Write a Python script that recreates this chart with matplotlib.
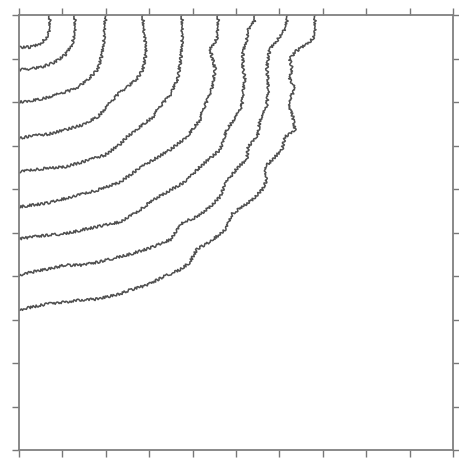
import numpy as np
import matplotlib
matplotlib.use("Agg")
import matplotlib.pyplot as plt

# Contour levels, innermost first.
# Each curve: x values and y values (axis units 0..10, origin bottom left).
curve1_x = [0.71, 0.71, 0.71, 0.65, 0.48, 0.25, 0.00]
curve1_y = [10.0, 9.84, 9.68, 9.49, 9.33, 9.26, 9.26]

curve2_x = [1.29, 1.29, 1.29, 1.22, 1.06, 0.83, 0.53, 0.21, 0.00]
curve2_y = [10.0, 9.84, 9.61, 9.31, 9.08, 8.92, 8.80, 8.76, 8.74]

curve3_x = [2.03, 1.98, 1.96, 1.91, 1.82, 1.59, 1.29, 0.90, 0.53, 0.21, 0.00]
curve3_y = [10.0, 9.84, 9.45, 9.08, 8.76, 8.51, 8.30, 8.18, 8.07, 8.02, 8.00]

curve4_x = [2.86, 2.86, 2.88, 2.93, 2.86, 2.72, 2.49, 2.33, 2.05, 1.82,
            1.45, 1.06, 0.67, 0.30, 0.00]
curve4_y = [10.0, 9.89, 9.61, 9.15, 8.76, 8.53, 8.34, 8.23, 7.93, 7.66,
            7.47, 7.36, 7.26, 7.22, 7.17]

curve5_x = [3.76, 3.76, 3.73, 3.66, 3.48, 3.20, 3.09, 2.79, 2.49, 2.33,
            1.98, 1.45, 1.06, 0.67, 0.30, 0.00]
curve5_y = [10.0, 9.45, 8.99, 8.53, 8.16, 7.84, 7.66, 7.43, 7.20, 7.03,
            6.78, 6.62, 6.51, 6.48, 6.44, 6.39]

curve6_x = [4.59, 4.59, 4.56, 4.40, 4.52, 4.47, 4.35, 4.22, 4.17, 3.87,
            3.48, 3.09, 2.72, 2.33, 1.82, 1.22, 0.67, 0.30, 0.00]
curve6_y = [10.0, 9.84, 9.45, 9.22, 8.76, 8.39, 8.07, 7.77, 7.59, 7.20,
            6.90, 6.67, 6.44, 6.16, 5.98, 5.82, 5.68, 5.63, 5.59]

curve7_x = [5.44, 5.44, 5.28, 5.25, 5.16, 5.16, 5.21, 5.16, 5.14, 5.02,
            4.91, 4.79, 4.63, 4.17, 3.85, 3.09, 2.72, 2.33, 1.98, 1.45,
            1.06, 0.67, 0.30, 0.00]
curve7_y = [10.0, 9.89, 9.66, 9.45, 9.15, 8.76, 8.53, 8.23, 7.93, 7.70,
            7.54, 7.36, 6.90, 6.51, 6.18, 5.75, 5.47, 5.24, 5.17, 5.06,
            4.97, 4.94, 4.90, 4.85]

curve8_x = [6.20, 6.18, 6.13, 5.97, 5.78, 5.74, 5.71, 5.74, 5.74, 5.71,
            5.62, 5.55, 5.51, 5.28, 5.25, 5.05, 4.82, 4.75, 4.63, 4.40,
            4.10, 3.78, 3.48, 3.09, 2.72, 2.33, 1.82, 1.45, 1.06, 0.67,
            0.30, 0.00]
curve8_y = [10.0, 9.89, 9.68, 9.45, 9.22, 8.99, 8.76, 8.53, 8.23, 7.93,
            7.70, 7.59, 7.26, 6.97, 6.67, 6.51, 6.21, 6.11, 5.82, 5.59,
            5.36, 5.24, 4.83, 4.67, 4.55, 4.44, 4.32, 4.25, 4.25, 4.16,
            4.09, 4.02]

curve9_x = [6.84, 6.82, 6.82, 6.77, 6.59, 6.36, 6.24, 6.29, 6.24, 6.36,
            6.24, 6.24, 6.31, 6.36, 6.13, 6.06, 5.83, 5.67, 5.71, 5.60,
            5.37, 5.14, 4.91, 4.77, 4.40, 4.10, 3.94, 3.71, 3.32, 2.95,
            2.56, 2.33, 1.82, 1.45, 1.06, 0.67, 0.30, 0.00]
curve9_y = [10.0, 9.89, 9.61, 9.45, 9.31, 9.15, 8.99, 8.76, 8.53, 8.30,
            8.07, 7.84, 7.66, 7.36, 7.20, 6.90, 6.67, 6.51, 6.21, 5.98,
            5.75, 5.59, 5.43, 5.08, 4.78, 4.62, 4.32, 4.14, 3.98, 3.79,
            3.68, 3.59, 3.47, 3.45, 3.40, 3.36, 3.29, 3.22]

curves = [
    (curve1_x, curve1_y), (curve2_x, curve2_y), (curve3_x, curve3_y),
    (curve4_x, curve4_y), (curve5_x, curve5_y), (curve6_x, curve6_y),
    (curve7_x, curve7_y), (curve8_x, curve8_y), (curve9_x, curve9_y),
]

tick_pos = np.arange(0, 11, 1)

fig = plt.figure(figsize=(4.59, 4.62), dpi=100)
ax = fig.add_axes([19 / 459, 12 / 462, 434 / 459, 435 / 462])

for cx, cy in curves:
    line, = ax.plot(cx, cy, color='#303030', linewidth=1.1, alpha=0.85)
    # rough, hand-traced look of the original lines
    line.set_sketch_params(scale=1.3, length=2.5, randomness=3)

ax.set_xlim(0, 10)
ax.set_ylim(0, 10)
ax.set_xticks(tick_pos)
ax.set_yticks(tick_pos)
ax.tick_params(direction='out', length=5, width=1.0, color='#777777',
               top=True, right=True, labelbottom=False, labelleft=False)
for s in ax.spines.values():
    s.set_color('#808080')
    s.set_linewidth(1.3)

fig.savefig('out.png', dpi=100)
